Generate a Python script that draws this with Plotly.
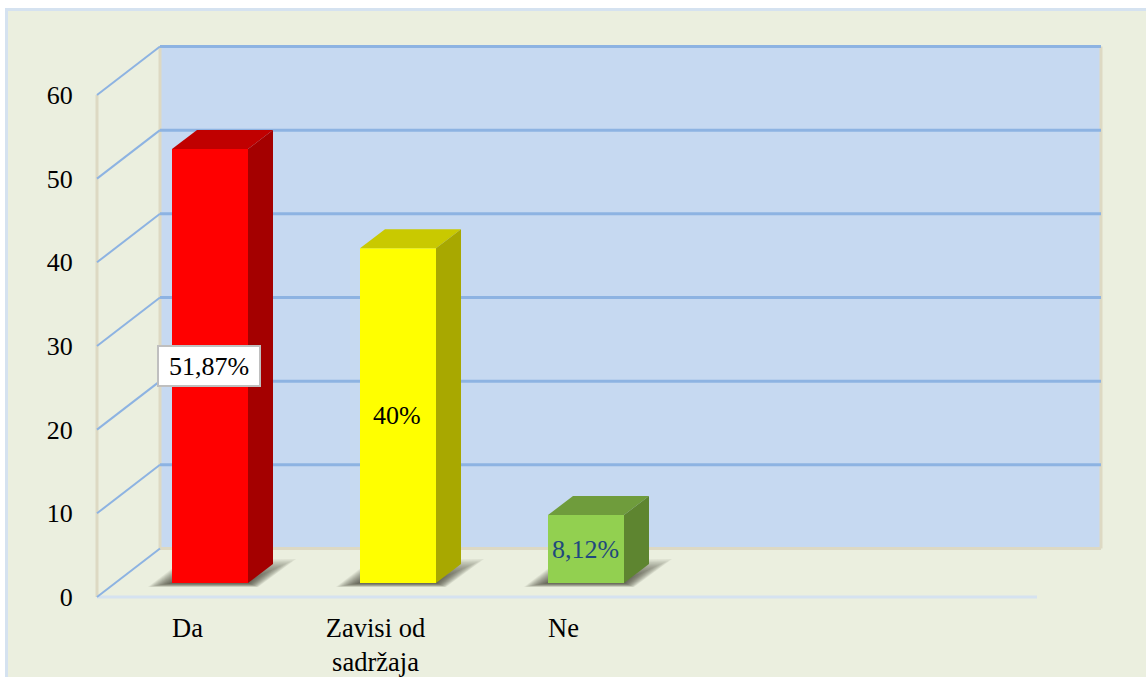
import plotly.graph_objects as go

categories = ["Da", "Zavisi od<br>sadržaja", "Ne"]
values = [51.87, 40, 8.12]
value_labels = ["51,87%", "40%", "8,12%"]
y_ticks = [0, 10, 20, 30, 40, 50, 60]

front_colors = ["#FF0000", "#FFFF00", "#92D050"]
top_colors = ["#C00000", "#C9C900", "#6F9C3C"]
side_colors = ["#A40000", "#A8A800", "#5E8530"]
label_colors = ["#000000", "#000000", "#1F497D"]

WIDTH, HEIGHT = 1146, 677
# pixels per unit on both axes, and where x=0 / y=0 land on the page
PX_X, PX_Y = 188.0, 8.367
X0, Y0 = 187.5, 597.0
PLOT_L, PLOT_R, PLOT_T, PLOT_B = 90, 1110, 40, 602


def ux(px):
    return px / PX_X


def uy(px):
    return px / PX_Y


# depth of the chart box and of a bar, in axis units
WALL_DX, WALL_DY = ux(63), uy(48.5)
BAR_DX, BAR_DY = ux(25), uy(19)
BAR_W = ux(76)
BAR_SHIFT = ux(22.5)
BAR_LIFT = uy(14)

AXIS_L = ux(97 - X0)
AXIS_R = ux(1037 - X0)
WALL_L = AXIS_L + WALL_DX
WALL_R = ux(1101 - X0)
WALL_TOP = y_ticks[-1] + WALL_DY


def poly(points):
    return "M " + " L ".join(f"{x:.4f},{y:.4f}" for x, y in points) + " Z"


def line_shape(x0, y0, x1, y1, color, width):
    return dict(type="line", x0=x0, y0=y0, x1=x1, y1=y1, xref="x", yref="y",
                layer="below", line=dict(color=color, width=width))


shapes = [
    # page panel, runs off the right and bottom edges
    dict(type="rect", xref="paper", yref="paper",
         x0=(6.5 - PLOT_L) / (PLOT_R - PLOT_L), x1=1.2,
         y0=-0.3, y1=(PLOT_B - 9.5) / (PLOT_B - PLOT_T),
         fillcolor="#EBEFDF", layer="below", line=dict(color="#D5E2F0", width=3)),
    dict(type="rect", xref="x", yref="y", x0=WALL_L, x1=WALL_R, y0=WALL_DY, y1=WALL_TOP,
         fillcolor="#C6D9F1", layer="below", line=dict(width=0)),
    line_shape(WALL_L, WALL_DY, WALL_L, WALL_TOP, "#DDD9C3", 3),
    line_shape(WALL_R, WALL_DY, WALL_R, WALL_TOP, "#DDD9C3", 3),
    line_shape(WALL_L, WALL_DY, WALL_R, WALL_DY, "#DDD9C3", 3),
    line_shape(AXIS_L, 0, AXIS_L, y_ticks[-1], "#DDD9C3", 3),
    line_shape(AXIS_L, 0, AXIS_R, 0, "#D5E2F0", 3),
]

for t in y_ticks:
    shapes.append(line_shape(AXIS_L, t, WALL_L, t + WALL_DY, "#8DB3E2", 2))
    if t > 0:
        shapes.append(line_shape(WALL_L, t + WALL_DY, WALL_R, t + WALL_DY, "#8DB3E2", 3))

# soft floor shadows: stacked see-through polygons, shrinking inwards
SHADOW_STEPS = 16
for i in range(len(values)):
    left = i + BAR_SHIFT - BAR_W / 2
    right = left + BAR_W
    for k in range(SHADOW_STEPS):
        grow = 1 - k / SHADOW_STEPS
        shapes.append(dict(
            type="path", xref="x", yref="y", layer="below",
            fillcolor="rgba(50,50,45,0.075)", line=dict(width=0),
            path=poly([
                (left - ux(24 * grow), BAR_LIFT - uy(4 * grow)),
                (left + ux(10), BAR_LIFT + uy(2 + 20 * grow)),
                (right + ux(48 * grow), BAR_LIFT + uy(2 + 22 * grow)),
                (right + ux(10 * grow), BAR_LIFT - uy(4 * grow)),
            ]),
        ))

fig = go.Figure()

fig.add_trace(go.Bar(
    x=[i + BAR_SHIFT for i in range(len(values))],
    y=values,
    base=BAR_LIFT,
    width=BAR_W,
    marker=dict(color=front_colors, line=dict(width=0)),
    showlegend=False,
    hoverinfo="skip",
))

for i, v in enumerate(values):
    left = i + BAR_SHIFT - BAR_W / 2
    right = left + BAR_W
    top = BAR_LIFT + v
    fig.add_trace(go.Scatter(
        x=[left, right, right + BAR_DX, left + BAR_DX, left],
        y=[top, top, top + BAR_DY, top + BAR_DY, top],
        mode="lines", fill="toself", fillcolor=top_colors[i],
        line=dict(width=0), showlegend=False, hoverinfo="skip",
    ))
    fig.add_trace(go.Scatter(
        x=[right, right + BAR_DX, right + BAR_DX, right, right],
        y=[BAR_LIFT, BAR_LIFT + BAR_DY, top + BAR_DY, top, BAR_LIFT],
        mode="lines", fill="toself", fillcolor=side_colors[i],
        line=dict(width=0), showlegend=False, hoverinfo="skip",
    ))

for i, v in enumerate(values):
    boxed = i == 0
    fig.add_annotation(
        x=i + BAR_SHIFT, y=BAR_LIFT + v / 2,
        xshift=-1,
        text=value_labels[i], showarrow=False,
        font=dict(family="Liberation Serif", size=26, color=label_colors[i]),
        bgcolor="#FFFFFF" if boxed else "rgba(0,0,0,0)",
        bordercolor="#BFBFBF" if boxed else "rgba(0,0,0,0)",
        borderwidth=2 if boxed else 0,
        borderpad=3,
        width=94 if boxed else None,
        height=32 if boxed else None,
    )

fig.update_layout(
    width=WIDTH,
    height=HEIGHT,
    margin=dict(l=PLOT_L, r=WIDTH - PLOT_R, t=PLOT_T, b=HEIGHT - PLOT_B, pad=0),
    paper_bgcolor="#FFFFFF",
    plot_bgcolor="rgba(0,0,0,0)",
    font=dict(family="Liberation Serif", color="#000000"),
    shapes=shapes,
    showlegend=False,
)
fig.update_xaxes(
    automargin=False,
    range=[ux(PLOT_L - X0), ux(PLOT_R - X0)],
    tickmode="array",
    tickvals=list(range(len(categories))),
    ticktext=categories,
    tickfont=dict(size=26.5),
    ticks="outside", ticklen=2, tickcolor="rgba(0,0,0,0)",
    showgrid=False, zeroline=False, showline=False,
)
fig.update_yaxes(
    automargin=False,
    range=[uy(Y0 - PLOT_B), uy(Y0 - PLOT_T)],
    tickmode="array",
    tickvals=y_ticks,
    tickfont=dict(size=26),
    ticks="outside", ticklen=11, tickcolor="rgba(0,0,0,0)",
    showgrid=False, zeroline=False, showline=False,
)

fig.write_html("out.html", config=dict(displayModeBar=False),
               post_script="document.body.style.margin='0';document.body.style.overflow='hidden';")
